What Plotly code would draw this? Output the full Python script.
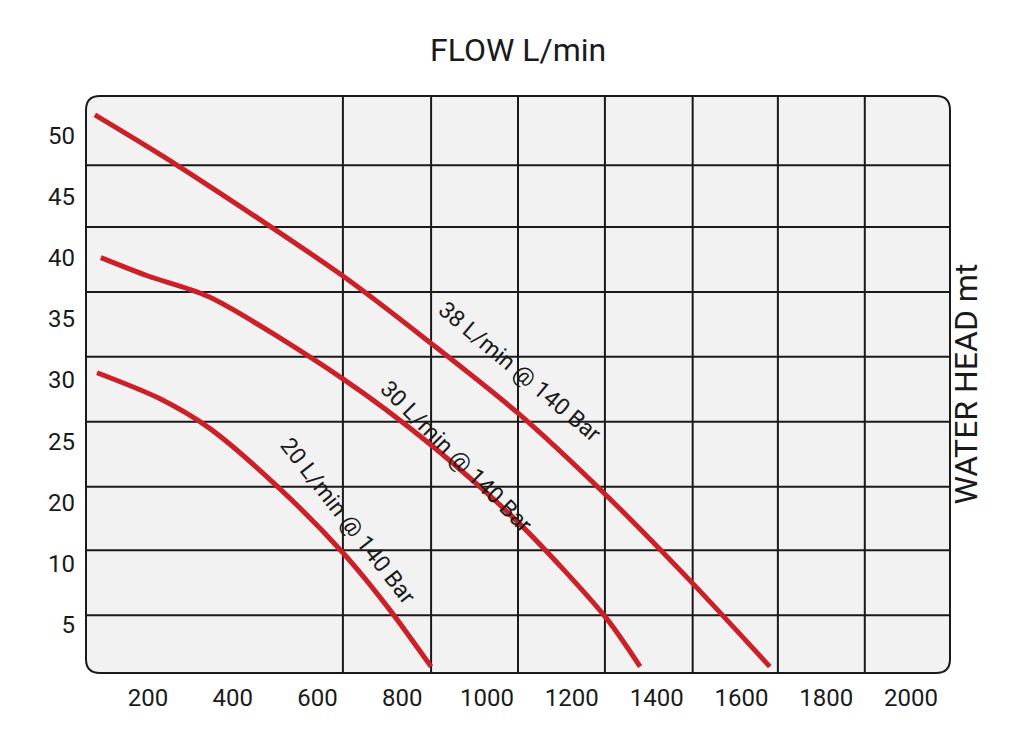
import plotly.graph_objects as go

# data (flow L/min, displayed head position units)
c38_x = [75, 271, 660, 868, 1073, 1278, 1485, 1667]
c38_y = [46.65, 42.5, 33.5, 28.0, 22.3, 15.7, 8.4, 1.6]
c30_x = [89, 200, 344, 660, 868, 1073, 1278, 1361]
c30_y = [35.0, 33.5, 31.8, 25.1, 19.7, 13.4, 5.7, 1.6]
c20_x = [80, 224, 344, 509, 660, 767, 868]
c20_y = [25.6, 23.55, 21.1, 16.2, 10.9, 6.4, 1.6]
x_ticks = [200, 400, 600, 800, 1000, 1200, 1400, 1600, 1800, 2000]
y_tickvals = [5, 10, 15, 20, 25, 30, 35, 40, 45]
y_ticktext = ["5", "10", "20", "25", "30", "35", "40", "45", "50"]
grid_x = [660, 868, 1073, 1278, 1485, 1686, 1891]
grid_y = [5.8, 11.1, 16.3, 21.6, 26.9, 32.2, 37.5, 42.55]
labels = ["38 L/min @ 140 Bar", "30 L/min @ 140 Bar", "20 L/min @ 140 Bar"]
label_pos = [(1076, 25.7, 40), (927, 18.8, 45), (670, 13.5, 52)]

FONT = "Roboto, sans-serif"
RED = "#cc1f27"
XR = [54, 2092]
YR = [1.08, 48.2]

fig = go.Figure()
for xs, ys in [(c38_x, c38_y), (c30_x, c30_y), (c20_x, c20_y)]:
    fig.add_trace(go.Scatter(x=xs, y=ys, mode="lines", line=dict(color=RED, width=5, shape="spline", smoothing=0.8),
                             showlegend=False, hoverinfo="skip"))

shapes = []
rx, ry = 14 / 864, 14 / 577
path = (f"M {rx},0 L {1-rx},0 Q 1,0 1,{ry} L 1,{1-ry} Q 1,1 {1-rx},1 L {rx},1 Q 0,1 0,{1-ry} "
        f"L 0,{ry} Q 0,0 {rx},0 Z")
shapes.append(dict(type="path", xref="paper", yref="paper", path=path,
                   line=dict(color="#1a1a1a", width=2), fillcolor="#f2f2f2", layer="below"))
for gx in grid_x:
    shapes.append(dict(type="line", xref="x", yref="paper", x0=gx, x1=gx, y0=0, y1=1,
                       line=dict(color="#1a1a1a", width=2), layer="below"))
for gy in grid_y:
    shapes.append(dict(type="line", xref="paper", yref="y", x0=0, x1=1, y0=gy, y1=gy,
                       line=dict(color="#1a1a1a", width=2), layer="below"))

ann = []
for t, (x, y, a) in zip(labels, label_pos):
    ann.append(dict(x=x, y=y, text=t, showarrow=False, textangle=a, font=dict(size=23, color="#1a1a1a", family=FONT)))
ann.append(dict(x=0.5, y=1, xref="paper", yref="paper", yshift=46, text="FLOW L/min", showarrow=False,
                yanchor="middle", font=dict(size=32, color="#1a1a1a", family=FONT)))
ann.append(dict(x=1, y=0.5, xref="paper", yref="paper", xshift=36, text="WATER HEAD mt", showarrow=False,
                textangle=-90, font=dict(size=32, color="#1a1a1a", family=FONT)))

fig.update_layout(
    width=1024, height=747, margin=dict(l=78, r=82, t=88, b=82, autoexpand=False),
    paper_bgcolor="white", plot_bgcolor="rgba(0,0,0,0)",
    shapes=shapes, annotations=ann,
    xaxis=dict(range=XR, tickvals=x_ticks, showgrid=False, zeroline=False, showline=False, automargin=False,
               tickfont=dict(size=24, color="#1a1a1a", family=FONT), ticks="", ticklabelstandoff=8),
    yaxis=dict(range=YR, tickvals=y_tickvals, ticktext=y_ticktext, showgrid=False, zeroline=False, automargin=False,
               showline=False, tickfont=dict(size=24, color="#1a1a1a", family=FONT), ticks="", ticklabelstandoff=10),
)
fig.write_html("out.html")
